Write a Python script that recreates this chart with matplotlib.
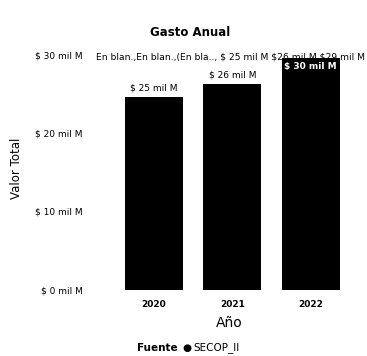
import matplotlib
matplotlib.use("Agg")
import matplotlib.pyplot as plt

years = ["2020", "2021", "2022"]
values = [24.6, 26.3, 29.5]
bar_labels = ["$ 25 mil M", "$ 26 mil M", "$ 30 mil M"]
yticks = [0, 10, 20, 30]
ytick_labels = ["$ 0 mil M", "$ 10 mil M", "$ 20 mil M", "$ 30 mil M"]
overlay_text = "En blan.,En blan.,(En bla.., $ 25 mil M $26 mil M $29 mil M"
title = "Gasto Anual"
xlabel = "Año"
ylabel = "Valor Total"
legend_title = "Fuente"
legend_item = "SECOP_II"

plt.rcParams['font.family'] = ['DejaVu Sans']
W, H = 367, 356
fig = plt.figure(figsize=(W/100, H/100), dpi=100)
left, right, bottom, top = 105, 355, 290, 54.5
ax = fig.add_axes([left/W, 1-bottom/H, (right-left)/W, (bottom-top)/H])

x = list(range(len(years)))
bars = ax.bar(x, values, width=0.74, color="black", zorder=3)
ax.set_xlim(-0.624, 2.564)
ax.set_ylim(0, 30)
ax.set_yticks(yticks)
ax.set_yticklabels(ytick_labels, fontsize=6.5)
ax.set_xticks(x)
ax.set_xticklabels(years, fontsize=6.5, fontweight="bold")
ax.tick_params(length=0, axis="y", pad=16)
ax.tick_params(length=0, axis="x", pad=7)
for s in ax.spines.values():
    s.set_visible(False)

for i, (v, lab) in enumerate(zip(values, bar_labels)):
    if i == 2:
        ax.text(i, v - 0.4, lab, ha="center", va="top", color="white",
                fontsize=6.5, fontweight="bold", zorder=4)
    else:
        ax.text(i, v + 0.5, lab, ha="center", va="bottom", color="black",
                fontsize=6.5, zorder=4)

fig.text(96/W, 1-57/H, overlay_text, ha="left", va="center", fontsize=6.6, zorder=1)
fig.text(190/W, 1-33/H, title, ha="center", va="center", fontsize=8.5, fontweight="bold")
fig.text(229/W, 1-323/H, xlabel, ha="center", va="center", fontsize=10)
fig.text(17/W, 1-168/H, ylabel, ha="center", va="center", fontsize=8.5, rotation=90)
fig.text(178/W, 1-348/H, legend_title, ha="right", va="center", fontsize=7.5, fontweight="bold")
fig.text(187/W, 1-348/H, "●", ha="center", va="center", fontsize=7.5)
fig.text(193/W, 1-348/H, legend_item, ha="left", va="center", fontsize=7.5)

fig.savefig("out.png", dpi=100)
